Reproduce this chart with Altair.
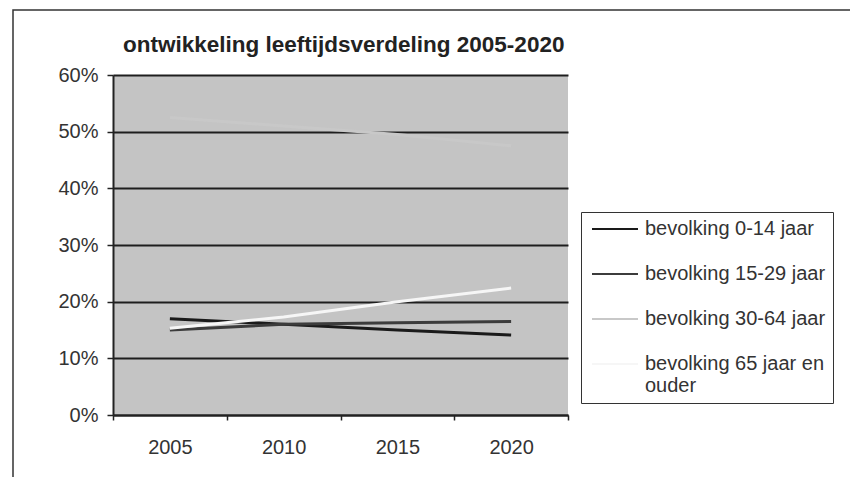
import altair as alt
import pandas as pd

years = ["2005", "2010", "2015", "2020"]
series = ["bevolking 0-14 jaar", "bevolking 15-29 jaar", "bevolking 30-64 jaar", "bevolking 65 jaar en ouder"]
v_0_14 = [0.17, 0.16, 0.15, 0.141]
v_15_29 = [0.15, 0.16, 0.163, 0.165]
v_30_64 = [0.525, 0.51, 0.495, 0.475]
v_65 = [0.153, 0.173, 0.20, 0.224]
colors = ["#1a1a1a", "#3c3c3c", "#c8c8c8", "#f6f6f6"]
title_text = "ontwikkeling leeftijdsverdeling 2005-2020"

rows = []
for name, vals in zip(series, [v_0_14, v_15_29, v_30_64, v_65]):
    for y, v in zip(years, vals):
        rows.append({"jaar": y, "reeks": name, "aandeel": v, "volgorde": series.index(name)})
df = pd.DataFrame(rows)

FONT = "Liberation Sans"

lines = alt.Chart(df).mark_line(strokeWidth=3, clip=False).encode(
    x=alt.X("jaar:O", title=None, bandPosition=0.5,
            scale=alt.Scale(type="band", paddingInner=0, paddingOuter=0),
            axis=alt.Axis(labelAngle=0, tickBand="extent", labelPadding=17, tickSize=5,
                          domainColor="#222", domainWidth=2, tickColor="#222", tickWidth=1.5,
                          grid=False)),
    y=alt.Y("aandeel:Q", title=None,
            scale=alt.Scale(domain=[0, 0.6], nice=False),
            axis=alt.Axis(format=".0%", values=[0, 0.1, 0.2, 0.3, 0.4, 0.5, 0.6],
                          tickSize=6, labelPadding=9, domainColor="#222", domainWidth=2,
                          tickColor="#222", tickWidth=1.5, grid=True,
                          gridColor="#1e1e1e", gridWidth=2, gridOpacity=1)),
    color=alt.Color("reeks:N", scale=alt.Scale(domain=series, range=colors),
                    legend=alt.Legend(title=None, orient="none", legendX=468, legendY=137,
                                      symbolType="M-3,0H3", symbolSize=235, symbolStrokeWidth=2,
                                      symbolOffset=17,
                                      labelFont=FONT, labelFontSize=20, labelColor="#333",
                                      labelOffset=20, padding=7, rowPadding=25,
                                      strokeColor="#333", fillColor="white",
                                      labelLimit=300,
                                      labelExpr="datum.label == 'bevolking 65 jaar en ouder' ? ['bevolking 65 jaar en', 'ouder'] : datum.label")),
    order=alt.Order("volgorde:Q"),
    detail="reeks:N",
)

frame = alt.Chart(pd.DataFrame({"k": [0]})).mark_rect(
    fill=None, stroke="#333", strokeWidth=1.5, clip=False
).encode(
    x=alt.value(-100), x2=alt.value(760), y=alt.value(-65), y2=alt.value(420)
)

chart = alt.layer(frame, lines).properties(
    width=455, height=340,
    title=alt.TitleParams(title_text, anchor="start", frame="group", dx=10, offset=0, dy=47,
                          font=FONT, fontSize=22.5, fontWeight="bold", color="#222"),
    autosize=alt.AutoSizeParams(type="none"),
    padding={"left": 105, "top": 67, "right": 282, "bottom": 62},
).configure_view(
    fill="#c4c4c4", stroke=None
).configure_axis(
    labelFont=FONT, labelFontSize=20, labelColor="#333"
)

chart.save("out.html", embed_options={"renderer": "svg", "actions": False})
